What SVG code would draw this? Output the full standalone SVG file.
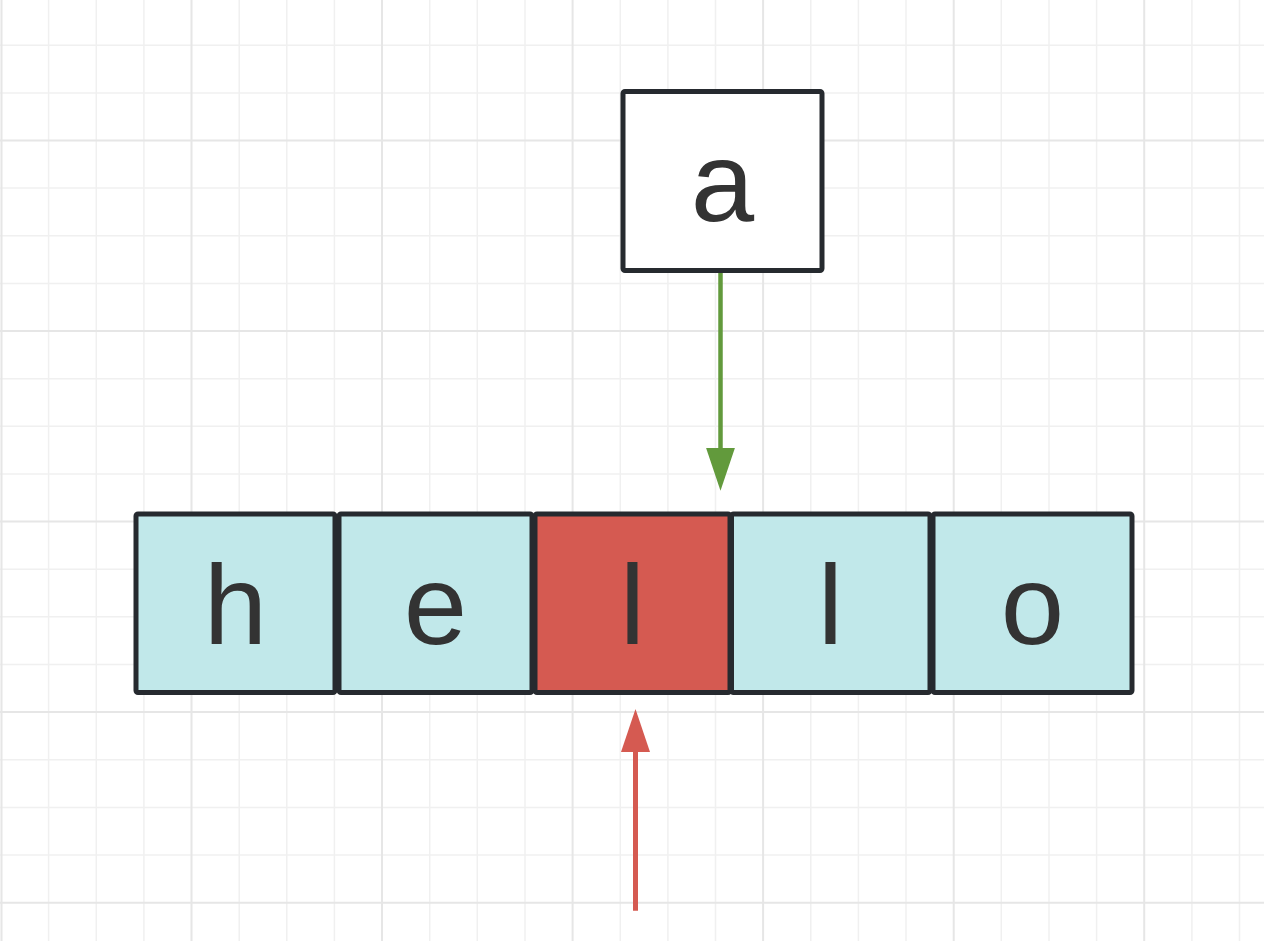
<svg xmlns="http://www.w3.org/2000/svg" width="1264" height="941" viewBox="0 0 1264 941">
  <defs>
    <style>
      .minor { stroke: #f0f0f0; stroke-width: 1.5; }
      .major { stroke: #e6e6e6; stroke-width: 2; }
      .cell { stroke: #262a2f; stroke-width: 5; }
      .blue { fill: #c1e8ea; }
      .red { fill: #d55a51; }
      .white { fill: #ffffff; }
      .lbl { font-family: "Liberation Sans", Arial, sans-serif; font-size: 114px; fill: #333333; text-anchor: middle; }
      .green-line { stroke: #629a3c; stroke-width: 4.5; fill: none; }
      .red-line { stroke: #d55a51; stroke-width: 5; fill: none; }
    </style>
    <marker id="headGreen" viewBox="0 0 43 29" refX="10" refY="14.5" markerWidth="43" markerHeight="29" markerUnits="userSpaceOnUse" orient="auto">
      <path d="M0,0 L43,14.5 L0,29 Z" fill="#629a3c"/>
    </marker>
    <marker id="headRed" viewBox="0 0 43 29" refX="10" refY="14.5" markerWidth="43" markerHeight="29" markerUnits="userSpaceOnUse" orient="auto">
      <path d="M0,0 L43,14.5 L0,29 Z" fill="#d55a51"/>
    </marker>
  </defs>
  <rect width="1264" height="941" fill="#ffffff"/>
  <g id="grid">
    <g class="minor">
      <line x1="48.6" y1="0" x2="48.6" y2="941"/>
      <line x1="96.3" y1="0" x2="96.3" y2="941"/>
      <line x1="143.9" y1="0" x2="143.9" y2="941"/>
      <line x1="239.2" y1="0" x2="239.2" y2="941"/>
      <line x1="286.8" y1="0" x2="286.8" y2="941"/>
      <line x1="334.4" y1="0" x2="334.4" y2="941"/>
      <line x1="429.7" y1="0" x2="429.7" y2="941"/>
      <line x1="477.3" y1="0" x2="477.3" y2="941"/>
      <line x1="525" y1="0" x2="525" y2="941"/>
      <line x1="620.3" y1="0" x2="620.3" y2="941"/>
      <line x1="667.9" y1="0" x2="667.9" y2="941"/>
      <line x1="715.5" y1="0" x2="715.5" y2="941"/>
      <line x1="810.8" y1="0" x2="810.8" y2="941"/>
      <line x1="858.4" y1="0" x2="858.4" y2="941"/>
      <line x1="906" y1="0" x2="906" y2="941"/>
      <line x1="1001.3" y1="0" x2="1001.3" y2="941"/>
      <line x1="1049" y1="0" x2="1049" y2="941"/>
      <line x1="1096.6" y1="0" x2="1096.6" y2="941"/>
      <line x1="1191.9" y1="0" x2="1191.9" y2="941"/>
      <line x1="1239.5" y1="0" x2="1239.5" y2="941"/>
      <line x1="0" y1="45.2" x2="1264" y2="45.2"/>
      <line x1="0" y1="92.9" x2="1264" y2="92.9"/>
      <line x1="0" y1="188.1" x2="1264" y2="188.1"/>
      <line x1="0" y1="235.8" x2="1264" y2="235.8"/>
      <line x1="0" y1="283.4" x2="1264" y2="283.4"/>
      <line x1="0" y1="378.7" x2="1264" y2="378.7"/>
      <line x1="0" y1="426.3" x2="1264" y2="426.3"/>
      <line x1="0" y1="473.9" x2="1264" y2="473.9"/>
      <line x1="0" y1="569.2" x2="1264" y2="569.2"/>
      <line x1="0" y1="616.8" x2="1264" y2="616.8"/>
      <line x1="0" y1="664.5" x2="1264" y2="664.5"/>
      <line x1="0" y1="759.7" x2="1264" y2="759.7"/>
      <line x1="0" y1="807.4" x2="1264" y2="807.4"/>
      <line x1="0" y1="855" x2="1264" y2="855"/>
    </g>
    <g class="major">
      <line x1="1.5" y1="0" x2="1.5" y2="941"/>
      <line x1="191.5" y1="0" x2="191.5" y2="941"/>
      <line x1="382" y1="0" x2="382" y2="941"/>
      <line x1="572.6" y1="0" x2="572.6" y2="941"/>
      <line x1="763.1" y1="0" x2="763.1" y2="941"/>
      <line x1="953.7" y1="0" x2="953.7" y2="941"/>
      <line x1="1144.2" y1="0" x2="1144.2" y2="941"/>
      <line x1="0" y1="140.5" x2="1264" y2="140.5"/>
      <line x1="0" y1="331" x2="1264" y2="331"/>
      <line x1="0" y1="521.6" x2="1264" y2="521.6"/>
      <line x1="0" y1="712.1" x2="1264" y2="712.1"/>
      <line x1="0" y1="902.7" x2="1264" y2="902.7"/>
    </g>
  </g>
  <g id="connectors">
    <line class="green-line" x1="720.5" y1="273" x2="720.5" y2="457.7" marker-end="url(#headGreen)"/>
    <line class="red-line" x1="635.5" y1="910.7" x2="635.5" y2="742" marker-end="url(#headRed)"/>
  </g>
  <g id="node-a">
    <rect class="cell white" x="623" y="91.5" width="199" height="179" rx="2"/>
    <text class="lbl" x="722.5" y="221">a</text>
  </g>
  <g id="node-h">
    <rect class="cell blue" x="136" y="514" width="199" height="178.5" rx="2"/>
    <text class="lbl" x="235.5" y="644">h</text>
  </g>
  <g id="node-e">
    <rect class="cell blue" x="339" y="514" width="193" height="178.5" rx="2"/>
    <text class="lbl" x="435.5" y="644">e</text>
  </g>
  <g id="node-l1">
    <rect class="cell red" x="535" y="514" width="195" height="178.5" rx="2"/>
    <text class="lbl" x="632.5" y="644">l</text>
  </g>
  <g id="node-l2">
    <rect class="cell blue" x="731.5" y="514" width="198.5" height="178.5" rx="2"/>
    <text class="lbl" x="830.5" y="644">l</text>
  </g>
  <g id="node-o">
    <rect class="cell blue" x="933" y="514" width="199" height="178.5" rx="2"/>
    <text class="lbl" x="1032.5" y="644">o</text>
  </g>
</svg>
